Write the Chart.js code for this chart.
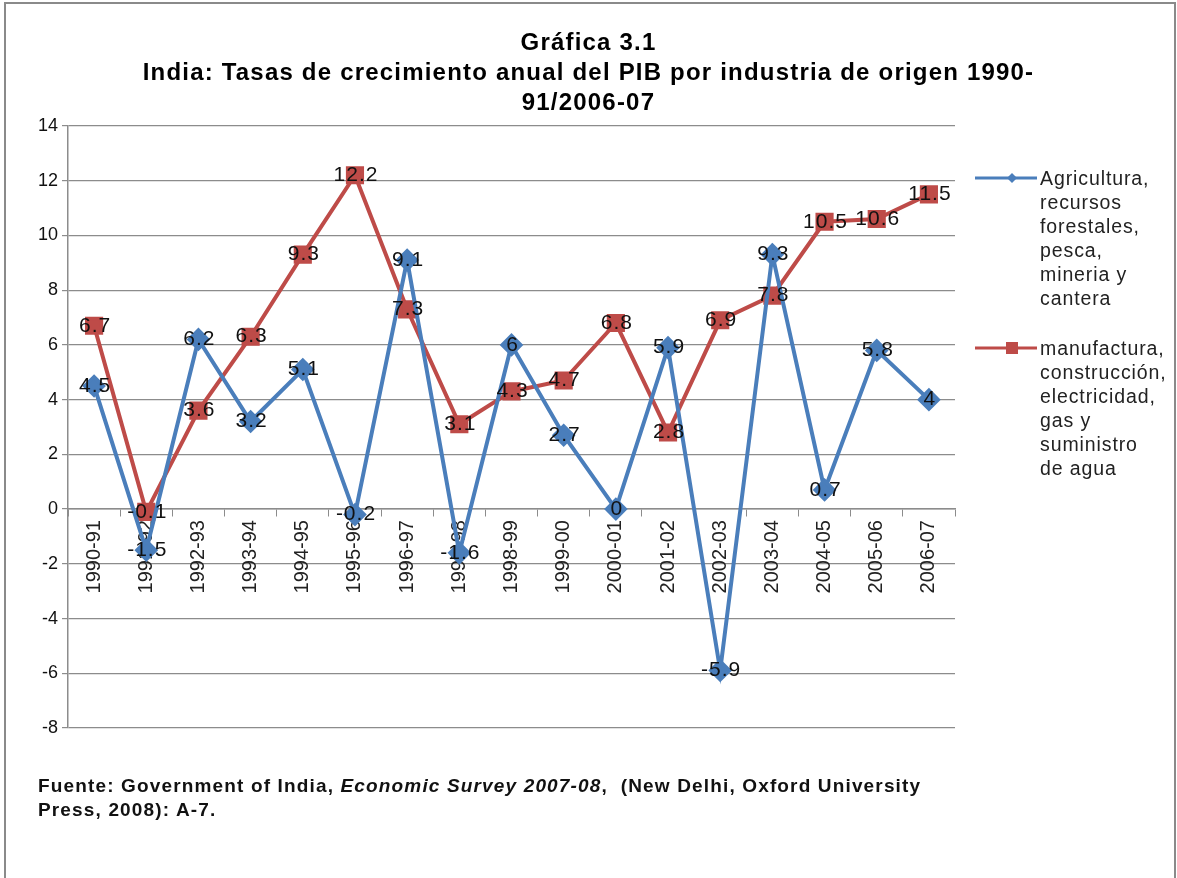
<!DOCTYPE html>
<html lang="es">
<head>
    <meta charset="UTF-8">
    <title>Gráfica 3.1</title>
    <script src="https://cdn.jsdelivr.net/npm/chart.js"></script>
    <style>
        body { margin: 0; background: #fff; font-family: "Liberation Sans", Arial, sans-serif; }
        #wrap { position: relative; width: 1177px; height: 878px; overflow: hidden; }
        #frame { position: absolute; left: 4px; top: 2px; width: 1168px; height: 900px; border: 2px solid #8a8a8a; }
        #title { position: absolute; left: 0; top: 27px; width: 1177px; text-align: center; font-weight: bold; font-size: 24px; letter-spacing: 1.2px; line-height: 30px; color: #000; }
        #chart { position: absolute; left: 0; top: 0; }
        .legend { position: absolute; left: 975px; font-size: 19.5px; letter-spacing: 0.9px; line-height: 24px; color: #222; }
        .legend .mk { position: absolute; left: 0; top: 0; }
        .legend .txt { margin-left: 65px; }
        #note { position: absolute; left: 38px; top: 774px; font-weight: bold; font-size: 19px; letter-spacing: 1.15px; line-height: 24px; color: #111; }
    </style>
</head>
<body>
<div id="wrap">
    <div id="frame"></div>
    <canvas id="chart" width="1177" height="878"></canvas>
    <div id="title">Gráfica 3.1<br>India: Tasas de crecimiento anual del PIB por industria de origen 1990-<br>91/2006-07</div>
    <div class="legend" style="top:166px">
        <svg class="mk" width="62" height="24"><line x1="0" y1="12" x2="62" y2="12" stroke="#4A7EBB" stroke-width="3"/><polygon points="37,7 42,12 37,17 32,12" fill="#4A7EBB"/></svg>
        <div class="txt">Agricultura,<br>recursos<br>forestales,<br>pesca,<br>mineria y<br>cantera</div>
    </div>
    <div class="legend" style="top:336px">
        <svg class="mk" width="62" height="24"><line x1="0" y1="12" x2="62" y2="12" stroke="#BE4B48" stroke-width="3"/><rect x="31" y="6" width="12" height="12" fill="#BE4B48"/></svg>
        <div class="txt">manufactura,<br>construcción,<br>electricidad,<br>gas y<br>suministro<br>de agua</div>
    </div>
    <div id="note">Fuente: Government of India, <i>Economic Survey 2007-08</i>,&nbsp; (New Delhi, Oxford University<br>Press, 2008): A-7.</div>
</div>
<script>
    const years = ['1990-91', '1991-92', '1992-93', '1993-94', '1994-95', '1995-96', '1996-97', '1997-98', '1998-99',
        '1999-00', '2000-01', '2001-02', '2002-03', '2003-04', '2004-05', '2005-06', '2006-07'];
    const agricultura = [4.5, -1.5, 6.2, 3.2, 5.1, -0.2, 9.1, -1.6, 6, 2.7, 0, 5.9, -5.9, 9.3, 0.7, 5.8, 4];
    const manufactura = [6.7, -0.1, 3.6, 6.3, 9.3, 12.2, 7.3, 3.1, 4.3, 4.7, 6.8, 2.8, 6.9, 7.8, 10.5, 10.6, 11.5];
    const yTicks = [-8, -6, -4, -2, 0, 2, 4, 6, 8, 10, 12, 14];

    // draws the value of every point centred on the marker
    const valueLabels = {
        id: 'valueLabels',
        afterDatasetsDraw(chart) {
            const ctx = chart.ctx;
            ctx.save();
            ctx.font = '21px "Liberation Sans", Arial, sans-serif';
            ctx.letterSpacing = '1px';
            ctx.fillStyle = '#111';
            ctx.textAlign = 'center';
            ctx.textBaseline = 'middle';
            chart.data.datasets.forEach((ds, i) => {
                chart.getDatasetMeta(i).data.forEach((pt, j) => {
                    ctx.fillText(String(ds.data[j]), pt.x + 1, pt.y);
                });
            });
            ctx.restore();
        }
    };

    new Chart(document.getElementById('chart').getContext('2d'), {
        type: 'line',
        data: {
            labels: years,
            datasets: [{
                label: 'Agricultura, recursos forestales, pesca, mineria y cantera',
                data: agricultura,
                borderColor: '#4A7EBB',
                backgroundColor: '#4A7EBB',
                borderWidth: 4,
                pointStyle: 'rectRot',
                pointRadius: 9,
                pointHoverRadius: 9,
                tension: 0
            }, {
                label: 'manufactura, construcción, electricidad, gas y suministro de agua',
                data: manufactura,
                borderColor: '#BE4B48',
                backgroundColor: '#BE4B48',
                borderWidth: 4,
                pointStyle: 'rect',
                pointRadius: 10,
                pointHoverRadius: 10,
                tension: 0
            }]
        },
        options: {
            responsive: false,
            animation: false,
            layout: { padding: { left: 28, top: 126, right: 222, bottom: 150 } },
            plugins: {
                legend: { display: false },
                title: { display: false },
                tooltip: { enabled: false }
            },
            scales: {
                x: {
                    position: { y: 0 },
                    offset: true,
                    grid: { display: true, offset: true, drawOnChartArea: false, color: '#8c8c8c', tickLength: 7 },
                    border: { color: '#8c8c8c', width: 1.5 },
                    ticks: {
                        minRotation: 90, maxRotation: 90, autoSkip: false, padding: 4,
                        color: '#222', font: { family: '"Liberation Sans", Arial, sans-serif', size: 20 }
                    }
                },
                y: {
                    min: -8, max: 14,
                    afterFit: s => { s.width = 40; },
                    afterBuildTicks: s => { s.ticks = yTicks.map(v => ({ value: v })); },
                    grid: { color: '#8c8c8c', tickLength: 6, lineWidth: 1.2 },
                    border: { color: '#8c8c8c', width: 1.5 },
                    ticks: { color: '#111', padding: 4, font: { family: '"Liberation Sans", Arial, sans-serif', size: 18 } }
                }
            }
        },
        plugins: [valueLabels]
    });
</script>
</body>
</html>
